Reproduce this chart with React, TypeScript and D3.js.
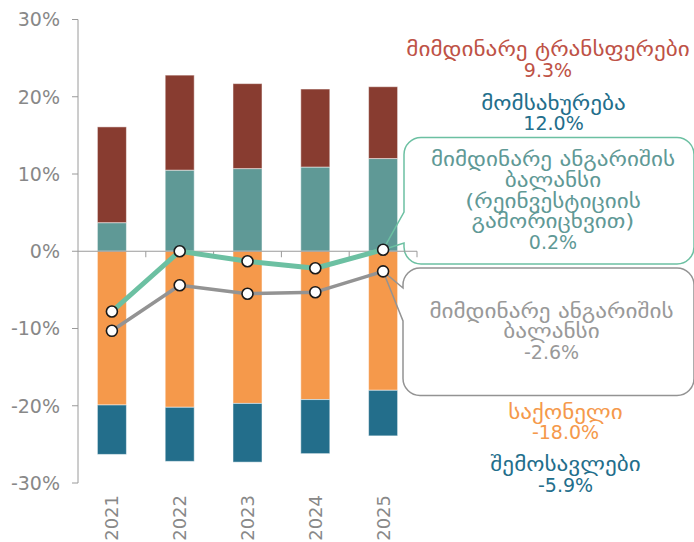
import React from "react";
import * as d3 from "d3";

const years = ["2021", "2022", "2023", "2024", "2025"];
const transfers = [12.4, 12.3, 11.0, 10.1, 9.3];
const services = [3.7, 10.5, 10.7, 10.9, 12.0];
const goods = [-19.9, -20.2, -19.7, -19.2, -18.0];
const income = [-6.4, -7.0, -7.6, -7.0, -5.9];
const caExReinvest = [-7.8, 0.0, -1.3, -2.2, 0.2];
const caBalance = [-10.3, -4.4, -5.5, -5.3, -2.6];
const yTicks = [30, 20, 10, 0, -10, -20, -30];

const W = 694;
const H = 542;
const FONT = "'DejaVu Sans', Verdana, sans-serif";
const GEO_STRETCH = 1.22;

const C = {
  transfers: "#883C30",
  services: "#5F9996",
  goods: "#F5994B",
  income: "#236E8B",
  green: "#6CC0A2",
  gray: "#939393",
  axis: "#9a9a9a",
  tick: "#888888",
};

function calloutPath(x1: number, y1: number, x2: number, y2: number, r: number, tipX: number, tipY: number, b1: number, b2: number) {
  const p = d3.path();
  p.moveTo(x1 + r, y1);
  p.lineTo(x2 - r, y1);
  p.arcTo(x2, y1, x2, y1 + r, r);
  p.lineTo(x2, y2 - r);
  p.arcTo(x2, y2, x2 - r, y2, r);
  p.lineTo(x1 + r, y2);
  p.arcTo(x1, y2, x1, y2 - r, r);
  p.lineTo(x1, b2);
  p.lineTo(tipX, tipY);
  p.lineTo(x1, b1);
  p.lineTo(x1, y1 + r);
  p.arcTo(x1, y1, x1 + r, y1, r);
  p.closePath();
  return p.toString();
}

const isGeorgian = (s: string) => /[\u10A0-\u10FF]/.test(s);

function Label({ lines, x, y, color, lh }: { lines: string[]; x: number; y: number; color: string; lh: number }) {
  return (
    <g>
      {lines.map((l, k) => (
        <text
          key={k}
          transform={`translate(${x},${y + k * lh}) scale(${isGeorgian(l) ? GEO_STRETCH : 1},1)`}
          textAnchor="middle"
          fontSize={19}
          fill={color}
        >
          {l}
        </text>
      ))}
    </g>
  );
}

export default function App() {
  const x = d3.scaleBand<string>().domain(years).range([78, 417]).paddingInner(0.572).paddingOuter(0.286);
  const y = d3.scaleLinear().domain([-30, 30]).range([483, 19.5]);
  const bw = x.bandwidth();
  const cx = (d: string) => (x(d) as number) + bw / 2;
  const step = x.step();
  const x0 = 78;

  const stacks = years.map((yr, i) => [
    { key: "services", y0: 0, y1: services[i], color: C.services },
    { key: "transfers", y0: services[i], y1: services[i] + transfers[i], color: C.transfers },
    { key: "goods", y0: 0, y1: goods[i], color: C.goods },
    { key: "income", y0: goods[i], y1: goods[i] + income[i], color: C.income },
  ]);

  const line = d3
    .line<number>()
    .x((_, i) => cx(years[i]))
    .y((v) => y(v));

  const last = years.length - 1;
  const greenTip = [cx(years[last]), y(caExReinvest[last])];
  const grayTip = [cx(years[last]), y(caBalance[last])];

  const labels = [
    { lines: ["მიმდინარე ტრანსფერები", "9.3%"], x: 548, y: 56, color: "#BE5246", lh: 20.5 },
    { lines: ["მომსახურება", "12.0%"], x: 553.5, y: 109.5, color: C.income, lh: 20.5 },
    { lines: ["მიმდინარე ანგარიშის", "ბალანსი", "(რეინვესტიციის", "გამორიცხვით)", "0.2%"], x: 553, y: 166, color: C.services, lh: 20.75 },
    { lines: ["მიმდინარე ანგარიშის", "ბალანსი", "-2.6%"], x: 551.5, y: 317.5, color: "#999999", lh: 20.75 },
    { lines: ["საქონელი", "-18.0%"], x: 565.5, y: 418.5, color: C.goods, lh: 20.5 },
    { lines: ["შემოსავლები", "-5.9%"], x: 565.5, y: 471, color: C.income, lh: 20.5 },
  ];

  return (
    <svg width={W} height={H} style={{ position: "absolute", left: 0, top: 0, fontFamily: FONT }}>
      {/* y axis */}
      <line x1={x0} x2={x0} y1={y(30)} y2={y(-30)} stroke={C.axis} strokeWidth={1} />
      {yTicks.map((t) => (
        <g key={t}>
          <line x1={x0 - 6} x2={x0} y1={y(t)} y2={y(t)} stroke={C.axis} strokeWidth={1} />
          <text x={x0 - 18} y={y(t)} dy="0.36em" textAnchor="end" fontSize={19} fill={C.tick}>
            {t + "%"}
          </text>
        </g>
      ))}

      {/* bars */}
      {stacks.map((segs, i) =>
        segs.map((s) => (
          <rect
            key={years[i] + s.key}
            x={x(years[i])}
            width={bw}
            y={y(Math.max(s.y0, s.y1))}
            height={Math.abs(y(s.y0) - y(s.y1))}
            fill={s.color}
            stroke="#ffffff"
            strokeOpacity={0.5}
            strokeWidth={1}
          />
        ))
      )}

      {/* callouts */}
      <path
        d={calloutPath(404, 137.5, 694, 264, 17, greenTip[0], greenTip[1], 212, 243)}
        fill="none"
        stroke={C.green}
        strokeWidth={1.5}
      />
      <path
        d={calloutPath(403, 268, 694, 395.5, 17, grayTip[0], grayTip[1], 288, 321)}
        fill="none"
        stroke={C.gray}
        strokeWidth={1.5}
      />

      {/* x axis at zero */}
      <line x1={x0} x2={417} y1={y(0)} y2={y(0)} stroke={C.axis} strokeWidth={1} />
      {years.map((yr, i) => (
        <line key={"xt" + yr} x1={x0 + step * (i + 1)} x2={x0 + step * (i + 1)} y1={y(0)} y2={y(0) + 6} stroke={C.axis} strokeWidth={1} />
      ))}
      {years.map((yr) => (
        <text
          key={"xl" + yr}
          transform={`translate(${cx(yr)},495) rotate(-90)`}
          textAnchor="end"
          dy="0.36em"
          fontSize={18}
          fill={C.tick}
        >
          {yr}
        </text>
      ))}

      {/* lines */}
      <path d={line(caBalance) as string} fill="none" stroke={C.gray} strokeWidth={3.5} strokeLinejoin="round" />
      <path d={line(caExReinvest) as string} fill="none" stroke={C.green} strokeWidth={5} strokeLinejoin="round" />

      {/* markers */}
      {caBalance.map((v, i) => (
        <circle key={"g" + i} cx={cx(years[i])} cy={y(v)} r={5.5} fill="#fff" stroke="#1a1a1a" strokeWidth={1.6} />
      ))}
      {caExReinvest.map((v, i) => (
        <circle key={"e" + i} cx={cx(years[i])} cy={y(v)} r={5.5} fill="#fff" stroke="#1a1a1a" strokeWidth={1.6} />
      ))}

      {/* labels */}
      {labels.map((lb) => (
        <Label key={lb.x + "-" + lb.y} {...lb} />
      ))}
    </svg>
  );
}
